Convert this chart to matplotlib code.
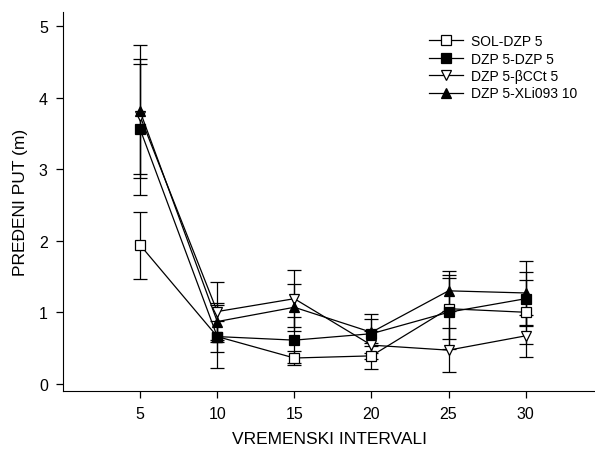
import matplotlib.pyplot as plt
from matplotlib.lines import Line2D

plt.rcParams['font.family'] = ['Liberation Sans', 'DejaVu Sans']

# vremenski intervali (min)
intervali = [5, 10, 15, 20, 25, 30]

# srednje vrijednosti predjenog puta (m)
sol_dzp5 = [1.94, 0.66, 0.36, 0.39, 1.05, 1.00]
dzp5_dzp5 = [3.56, 0.66, 0.61, 0.70, 1.00, 1.19]
dzp5_bcct5 = [3.74, 1.01, 1.19, 0.54, 0.47, 0.67]
dzp5_xli093 = [3.81, 0.87, 1.07, 0.72, 1.30, 1.27]

# standardne greske
sol_err = [0.47, 0.22, 0.10, 0.18, 0.43, 0.45]
dzp5_err = [0.92, 0.44, 0.32, 0.27, 0.52, 0.38]
bcct_err = [0.80, 0.42, 0.40, 0.20, 0.31, 0.29]
xli_err = [0.93, 0.26, 0.33, 0.19, 0.28, 0.45]

serije = [
    ("SOL-DZP 5", sol_dzp5, sol_err, 's', 'white'),
    ("DZP 5-DZP 5", dzp5_dzp5, dzp5_err, 's', 'black'),
    ("DZP 5-βCCt 5", dzp5_bcct5, bcct_err, 'v', 'white'),
    ("DZP 5-XLi093 10", dzp5_xli093, xli_err, '^', 'black'),
]

fig = plt.figure(figsize=(5.95, 4.52), dpi=100)
ax = fig.add_axes([0.106, 0.133, 0.894, 0.838])

handles = []
for ime, y, err, mk, fc in serije:
    ax.errorbar(intervali, y, yerr=err, color='black', lw=0.9,
                marker=mk, markersize=6.5, markerfacecolor=fc,
                markeredgecolor='black', markeredgewidth=0.9,
                capsize=5, capthick=0.9, elinewidth=0.9)
    handles.append(Line2D([], [], color='black', lw=0.9, marker=mk,
                          markersize=6.5, markerfacecolor=fc,
                          markeredgecolor='black', markeredgewidth=0.9,
                          label=ime))

ax.set_xlim(0, 34.5)
ax.set_ylim(-0.1, 5.2)
ax.set_xticks([5, 10, 15, 20, 25, 30])
ax.set_yticks([0, 1, 2, 3, 4, 5])
ax.spines['top'].set_visible(False)
ax.spines['right'].set_visible(False)
ax.tick_params(direction='out', length=5, width=0.9, labelsize=11.5, pad=6)

ax.set_xlabel("VREMENSKI INTERVALI", fontsize=12.5, labelpad=7)
ax.set_ylabel("PREĐENI PUT (m)", fontsize=12.5, labelpad=8)

ax.legend(handles=handles, loc='upper right', bbox_to_anchor=(0.99, 0.975),
          frameon=False, fontsize=10, handlelength=2.4, labelspacing=0.25,
          handletextpad=0.6)

fig.savefig("out.png", dpi=100)
